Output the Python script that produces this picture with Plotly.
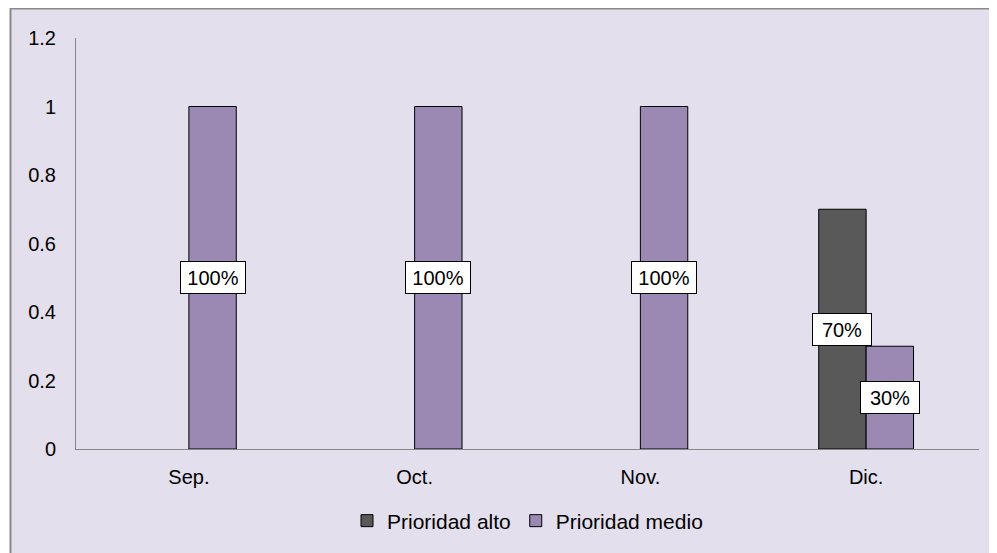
import plotly.graph_objects as go

categories = ["Sep.", "Oct.", "Nov.", "Dic."]
alto = [None, None, None, 0.7]
medio = [1, 1, 1, 0.3]
alto_labels = ["", "", "", "70%"]
medio_labels = ["100%", "100%", "100%", "30%"]

DARK = "#595959"
PURPLE = "#9B89B4"
BG = "#E4DFEC"
FONT = "Liberation Sans, Arial, sans-serif"

fig = go.Figure()
fig.add_trace(go.Bar(name="Prioridad alto", x=categories, y=alto,
                     marker=dict(color=DARK, line=dict(color="#000000", width=1))))
fig.add_trace(go.Bar(name="Prioridad medio", x=categories, y=medio,
                     marker=dict(color=PURPLE, line=dict(color="#000000", width=1))))

# page is offset by the default 8px body margin
W, H = 989, 545
L, R, T, B = 68, 18, 30, 104
pw = W - L - R
ph = H - T - B
off = 0.105

annotations = []
for i, (v, lab) in enumerate(zip(alto, alto_labels)):
    if v is not None and lab:
        annotations.append(dict(x=i - off, y=v / 2, text=lab, showarrow=False,
                                bgcolor="white", bordercolor="black", borderwidth=1,
                                width=56, height=29, font=dict(size=20, color="black", family=FONT)))
for i, (v, lab) in enumerate(zip(medio, medio_labels)):
    if v is not None and lab:
        annotations.append(dict(x=i + off, y=v / 2, text=lab, showarrow=False,
                                bgcolor="white", bordercolor="black", borderwidth=1,
                                width=62 if lab == "100%" else 56, height=29,
                                font=dict(size=20, color="black", family=FONT)))

fig.update_layout(
    width=W, height=H,
    margin=dict(l=L, r=R, t=T, b=B),
    paper_bgcolor="white",
    plot_bgcolor="rgba(0,0,0,0)",
    barmode="group",
    bargap=0.58,
    bargroupgap=0,
    font=dict(family=FONT, size=20, color="black"),
    xaxis=dict(showline=True, linecolor="#868686", linewidth=1, showgrid=False,
               ticks="", ticklabelstandoff=10, tickfont=dict(size=20)),
    yaxis=dict(range=[0, 1.2], dtick=0.2, showline=True, linecolor="#868686", linewidth=1,
               showgrid=False, zeroline=False, ticks="", ticklabelstandoff=15,
               tickformat="~g", tickfont=dict(size=20)),
    legend=dict(orientation="h", x=0.5, xanchor="center", y=(T + ph - 513) / ph,
                yanchor="middle", font=dict(size=21), bgcolor="rgba(0,0,0,0)",
                itemwidth=30, traceorder="normal"),
    annotations=annotations,
    shapes=[dict(type="rect", xref="paper", yref="paper", layer="below",
                 x0=(2.5 - L) / pw, x1=(W + 10 - L) / pw,
                 y0=(T + ph - (H + 10)) / ph, y1=(T + ph - 0.5) / ph,
                 fillcolor=BG, line=dict(color="#8A8A8A", width=2))],
)

fig.write_html("out.html")
